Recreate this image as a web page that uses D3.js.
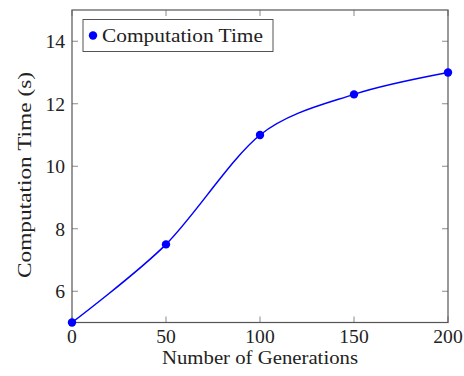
<!DOCTYPE html>
<html>
<head>
<meta charset="utf-8">
<script src="https://cdn.jsdelivr.net/npm/d3@7/dist/d3.min.js"></script>
<style>
  html, body { margin: 0; padding: 0; background: #fff; }
  svg { display: block; }
  text { font-family: "Liberation Serif", "DejaVu Serif", serif; fill: #222; }
</style>
</head>
<body>
<svg id="chart" width="464" height="376"></svg>
<script>
// Computation time measured against number of generations
const generations = [0, 50, 100, 150, 200];
const computeTime = [5, 7.5, 11, 12.3, 13];
const xTicks = [0, 50, 100, 150, 200];
const yTicks = [6, 8, 10, 12, 14];
const seriesName = "Computation Time";
const xLabel = "Number of Generations";
const yLabel = "Computation Time (s)";

const svg = d3.select("#chart");
const plot = { left: 72, right: 448, top: 10, bottom: 322.5 };

const x = d3.scaleLinear().domain([0, 200]).range([plot.left, plot.right]);
const y = d3.scaleLinear().domain([5, 15]).range([plot.bottom, plot.top]);

const tickLen = 6;
const tickColor = "#8a8a8a";
const frameColor = "#555";
const fs = 18;
const digitW = 9.8;

// inward ticks on all four sides
const g = svg.append("g");
xTicks.forEach(t => {
  g.append("line").attr("x1", x(t)).attr("x2", x(t))
    .attr("y1", plot.bottom).attr("y2", plot.bottom - tickLen)
    .attr("stroke", tickColor).attr("stroke-width", 1);
  g.append("line").attr("x1", x(t)).attr("x2", x(t))
    .attr("y1", plot.top).attr("y2", plot.top + tickLen)
    .attr("stroke", tickColor).attr("stroke-width", 1);
});
yTicks.forEach(t => {
  g.append("line").attr("x1", plot.left).attr("x2", plot.left + tickLen)
    .attr("y1", y(t)).attr("y2", y(t))
    .attr("stroke", tickColor).attr("stroke-width", 1);
  g.append("line").attr("x1", plot.right).attr("x2", plot.right - tickLen)
    .attr("y1", y(t)).attr("y2", y(t))
    .attr("stroke", tickColor).attr("stroke-width", 1);
});

// tick labels
svg.append("g").selectAll("text").data(xTicks).join("text")
  .attr("x", d => x(d)).attr("y", 342.5)
  .attr("text-anchor", "middle").attr("font-size", fs)
  .attr("textLength", d => String(d).length * digitW)
  .attr("lengthAdjust", "spacingAndGlyphs")
  .text(d => d);
svg.append("g").selectAll("text").data(yTicks).join("text")
  .attr("x", plot.left - 7).attr("y", d => y(d) + 7)
  .attr("text-anchor", "end").attr("font-size", fs)
  .attr("textLength", d => String(d).length * digitW)
  .attr("lengthAdjust", "spacingAndGlyphs")
  .text(d => d);

// axis titles
svg.append("text")
  .attr("x", 260).attr("y", 364)
  .attr("text-anchor", "middle").attr("font-size", fs)
  .attr("textLength", 196).attr("lengthAdjust", "spacingAndGlyphs")
  .text(xLabel);
svg.append("text")
  .attr("transform", "translate(31,175) rotate(-90)")
  .attr("text-anchor", "middle").attr("font-size", fs)
  .attr("textLength", 206).attr("lengthAdjust", "spacingAndGlyphs")
  .text(yLabel);

// smooth line with markers
const pts = generations.map((d, i) => [d, computeTime[i]]);
const line = d3.line().x(d => x(d[0])).y(d => y(d[1]))
  .curve(d3.curveCardinal.tension(0.1));
svg.append("path").datum(pts)
  .attr("d", line).attr("fill", "none")
  .attr("stroke", "#0000ff").attr("stroke-width", 1.5);

// frame
svg.append("rect")
  .attr("x", plot.left).attr("y", plot.top)
  .attr("width", plot.right - plot.left).attr("height", plot.bottom - plot.top)
  .attr("fill", "none").attr("stroke", frameColor).attr("stroke-width", 1.2);

svg.append("g").selectAll("circle").data(pts).join("circle")
  .attr("cx", d => x(d[0])).attr("cy", d => y(d[1])).attr("r", 4.2)
  .attr("fill", "#0000ff");

// legend
const lg = svg.append("g");
lg.append("rect").attr("x", 83).attr("y", 19.5).attr("width", 190).attr("height", 32)
  .attr("fill", "#fff").attr("stroke", frameColor).attr("stroke-width", 1);
lg.append("circle").attr("cx", 93).attr("cy", 35.5).attr("r", 4.2).attr("fill", "#0000ff");
lg.append("text").attr("x", 102).attr("y", 41.5)
  .attr("font-size", fs)
  .attr("textLength", 161).attr("lengthAdjust", "spacingAndGlyphs")
  .text(seriesName);
</script>
</body>
</html>
